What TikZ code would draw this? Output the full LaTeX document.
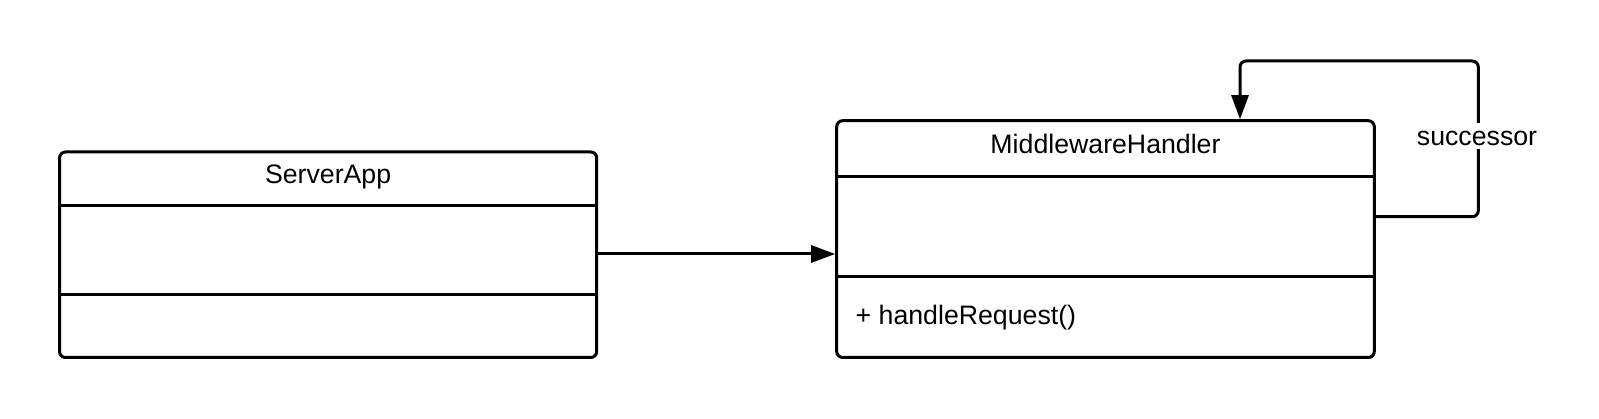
\documentclass[tikz,border=0pt]{standalone}
\usepackage{fontspec}
\setmainfont{Liberation Sans}
\usetikzlibrary{arrows.meta,calc}
\begin{document}
\begin{tikzpicture}[x=1pt,y=-1pt,
  umlbox/.style={draw,line width=3pt,rounded corners=6pt,inner sep=0pt,fill=white},
  divider/.style={line width=3pt},
  conn/.style={line width=3pt,-{Triangle[length=24pt 0 0,width=17pt 0 0]}},
  lbl/.style={font=\fontsize{26.7}{31}\selectfont,inner sep=0pt}]
\useasboundingbox[fill=white] (0,0) rectangle (1599,419);
% ServerApp
\node[umlbox,minimum width=537.2pt,minimum height=205.5pt] (server) at (328.1,254.75) {};
\draw[divider] (server.west |- 0,206) -- (server.east |- 0,206);
\draw[divider] (server.west |- 0,295) -- (server.east |- 0,295);
\node[lbl,anchor=base] (servertitle) at (328.1,183.5) {ServerApp};
% MiddlewareHandler
\node[umlbox,minimum width=537.6pt,minimum height=236.8pt] (mw) at (1105.5,239.1) {};
\draw[divider] (mw.west |- 0,176.7) -- (mw.east |- 0,176.7);
\draw[divider] (mw.west |- 0,276.7) -- (mw.east |- 0,276.7);
\node[lbl,anchor=base] (mwtitle) at (1105.5,153.5) {MiddlewareHandler};
\node[lbl,anchor=base west] (method) at (855.5,325) {+ handleRequest()};
% association
\draw[conn] (server.east |- 0,254) -- (mw.west |- 0,254);
% self loop
\coordinate (loopcorner) at (1478.3,61);
\draw[conn,rounded corners=6pt] (mw.east |- 0,216.7) -| (loopcorner) -| (mw.north -| 1240,0);
\node[lbl,anchor=base,fill=white,text height=19pt,text depth=0pt,inner ysep=3.5pt,inner xsep=1pt] (succ) at (1477,146) {successor};
\end{tikzpicture}
\end{document}
